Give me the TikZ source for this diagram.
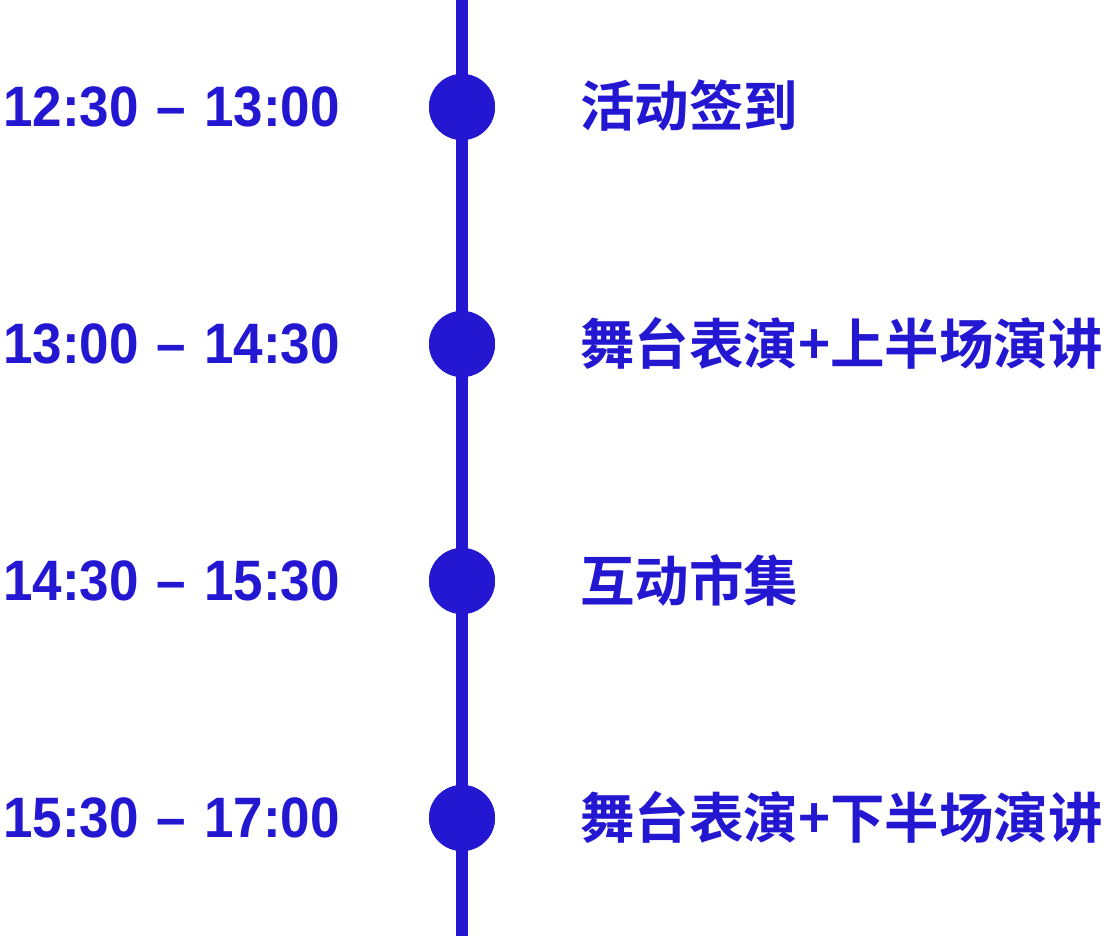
\documentclass[tikz,border=0pt]{standalone}
\usepackage{fontspec}
\setmainfont{Noto Sans CJK SC}[UprightFont=* Bold]
\newfontfamily\timefont{Liberation Sans}[UprightFont=* Bold, FakeStretch=0.93]
\usepackage{tikz}
\usetikzlibrary{positioning}
\definecolor{timeline}{HTML}{2317D2}
\newcommand{\dashsep}{\hspace{18pt}–\hspace{18pt}}
\tikzset{
  dot/.style={
    circle, fill=timeline, draw=none,
    minimum size=66pt, inner sep=0pt,
  },
  rail/.style={line width=12pt, color=timeline},
  timelabel/.style={
    anchor=east, inner sep=0pt, text=timeline,
    font=\timefont\fontsize{57}{60}\selectfont,
    text height=41pt, text depth=0pt,
  },
  eventlabel/.style={
    anchor=west, inner sep=0pt, text=timeline,
    font=\fontsize{54.5}{60}\selectfont,
    text height=46pt, text depth=6pt,
  },
}

\begin{document}
\begin{tikzpicture}[x=1pt,y=-1pt]
  \useasboundingbox (0,0) rectangle (1107,936);
  \coordinate (top) at (462,0);
  \coordinate (bottom) at (462,936);
  \node[dot] (d1) at (462,107) {};
  \node[dot] (d2) at (462,344) {};
  \node[dot] (d3) at (462,581) {};
  \node[dot] (d4) at (462,818) {};
  \draw[rail] (top)--(d1.center)--(d2.center)--(d3.center)--(d4.center)--(bottom);
  \node[dot] at (d1) {};
  \node[dot] at (d2) {};
  \node[dot] at (d3) {};
  \node[dot] at (d4) {};
  \node[timelabel] (t1) at (340,106) {12:30\dashsep13:00};
  \node[timelabel] (t2) at (340,343) {13:00\dashsep14:30};
  \node[timelabel] (t3) at (340,580) {14:30\dashsep15:30};
  \node[timelabel] (t4) at (340,817) {15:30\dashsep17:00};
  \node[eventlabel] (e1) at (580,107) {活动签到};
  \node[eventlabel] (e2) at (580,344) {舞台表演+上半场演讲};
  \node[eventlabel] (e3) at (580,581) {互动市集};
  \node[eventlabel] (e4) at (580,818) {舞台表演+下半场演讲};
\end{tikzpicture}
\end{document}
